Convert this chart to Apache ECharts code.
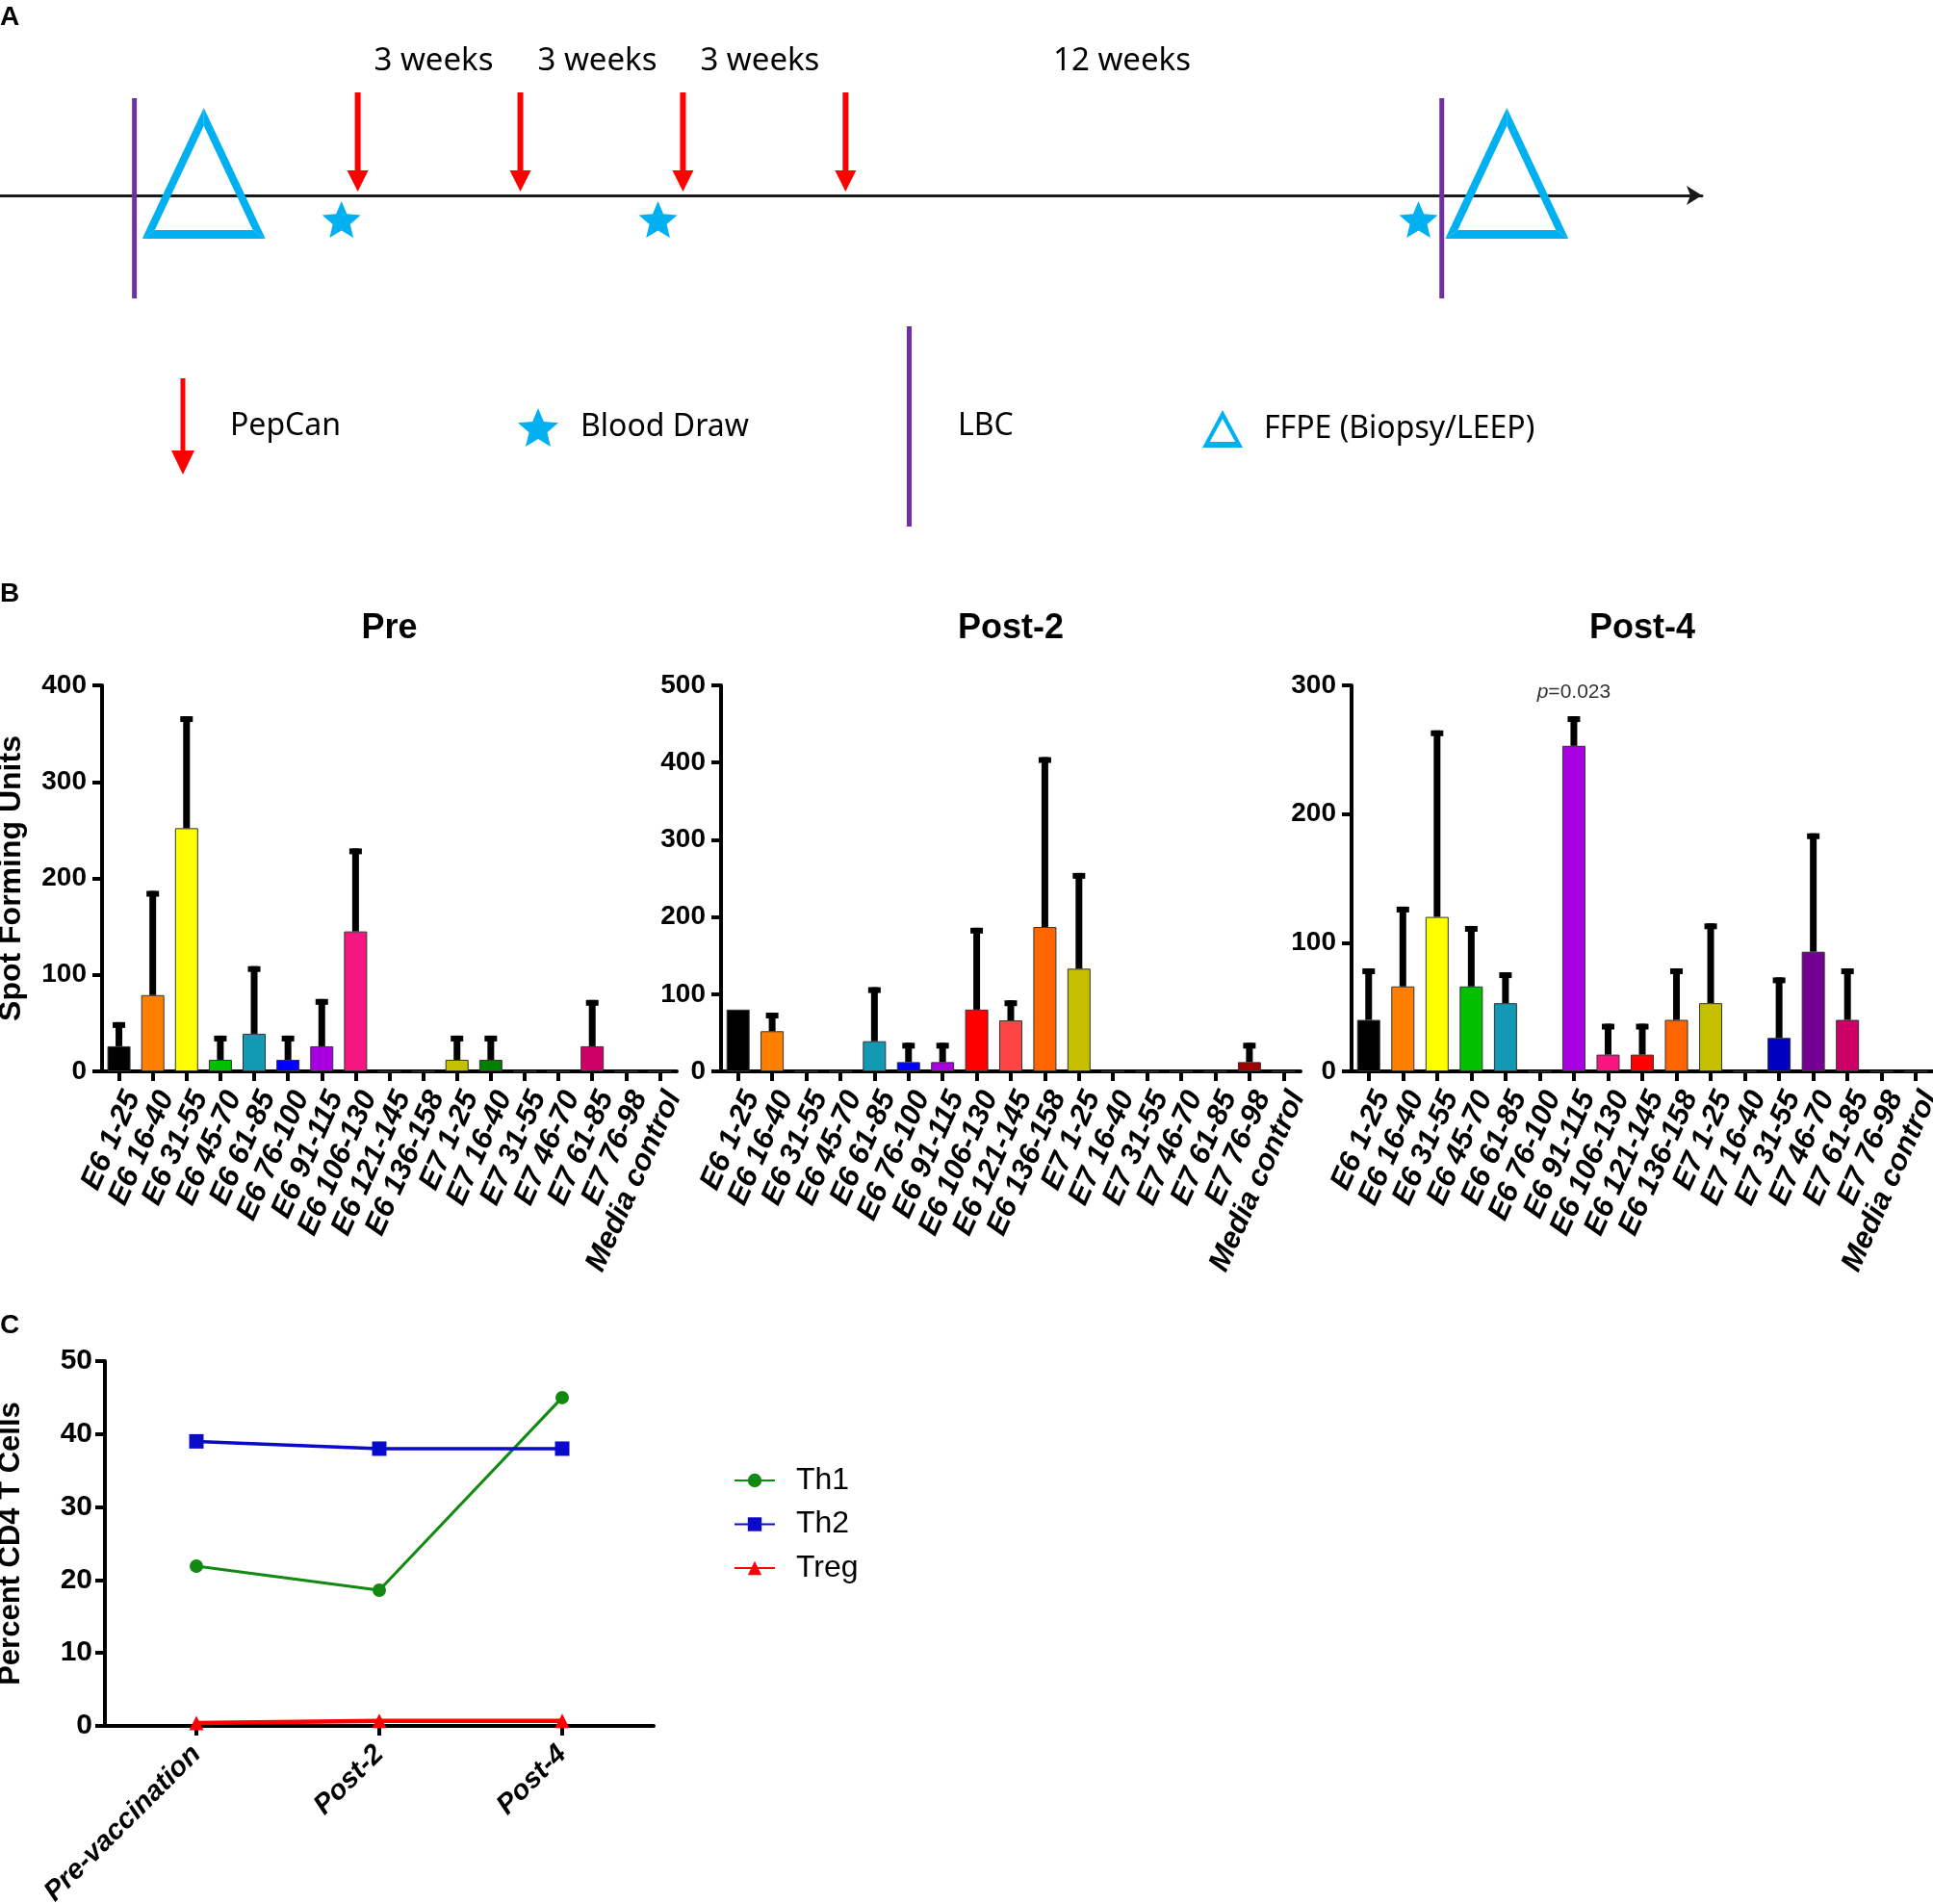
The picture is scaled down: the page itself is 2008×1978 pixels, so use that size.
<!DOCTYPE html>
<html><head><meta charset="utf-8">
<script src="https://cdn.jsdelivr.net/npm/echarts@6.0.0/dist/echarts.min.js"></script>
<style>html,body{margin:0;padding:0;background:#fff}#c{width:2008px;height:1978px}</style>
</head><body><div id="c"></div>
<script>
// ---------- Panel A: schematic timeline (positions in weeks from first PepCan dose)
const timelineWeeks = [-6.6, 24.8];
const pepcanWeeks = [0, 3, 6, 9];
const bloodDrawWeeks = [-0.3, 5.54, 19.57];
const lbcWeeks = [-4.12, 20.0];
const ffpeWeeks = [-2.84, 21.2];
const intervalLabels = ['3 weeks', '3 weeks', '3 weeks', '12 weeks'];
const intervalLabelWeeks = [1.4, 4.42, 7.42, 14.1];
const keyNames = ['PepCan', 'Blood Draw', 'LBC', 'FFPE (Biopsy/LEEP)'];

// ---------- Panel B: ELISPOT spot forming units
const peptides = ['E6 1-25','E6 16-40','E6 31-55','E6 45-70','E6 61-85','E6 76-100','E6 91-115','E6 106-130','E6 121-145','E6 136-158','E7 1-25','E7 16-40','E7 31-55','E7 46-70','E7 61-85','E7 76-98','Media control'];
const panelTitles = ['Pre', 'Post-2', 'Post-4'];
const preValues   = [26, 79, 252, 12, 39, 12, 26, 145, 0, 0, 12, 12, 0, 0, 26, 0, 0];
const preErrors   = [25, 108, 116, 25, 70, 25, 49, 86, 0, 0, 25, 25, 0, 0, 48, 0, 0];
const post2Values = [80, 52, 0, 0, 39, 12, 12, 80, 66, 187, 133, 0, 0, 0, 0, 12, 0];
const post2Errors = [0, 24, 0, 0, 70, 25, 25, 106, 26, 220, 124, 0, 0, 0, 0, 25, 0];
const post4Values = [40, 66, 120, 66, 53, 0, 253, 13, 13, 40, 53, 0, 26, 93, 40, 0, 0];
const post4Errors = [40, 62, 145, 47, 24, 0, 23, 24, 24, 40, 62, 0, 47, 92, 40, 0, 0];
const preColors   = ['#000000','#ff8000','#ffff00','#00c000','#1299b4','#0000ff','#a800e0','#f5167f','#000000','#000000','#c4c000','#008000','#000000','#000000','#cc0066','#000000','#000000'];
const post2Colors = ['#000000','#ff8000','#000000','#000000','#1299b4','#0000ff','#a800e0','#ff0000','#ff4444','#ff6600','#c4c000','#000000','#000000','#000000','#000000','#a00000','#000000'];
const post4Colors = ['#000000','#ff8000','#ffff00','#00c000','#1299b4','#000000','#a800e0','#f5167f','#ff0000','#ff6600','#c4c000','#000000','#0000c0','#740094','#cc0066','#000000','#000000'];
const axisMax = [400, 500, 300];
const axisInterval = 100;
const post4Annotation = { category: 'E6 91-115', text: 'p=0.023' };

// ---------- Panel C: CD4 T cell subsets
const timepoints = ['Pre-vaccination', 'Post-2', 'Post-4'];
const th1 = [21.9, 18.6, 45.0];
const th2 = [39.0, 38.0, 38.0];
const treg = [0.4, 0.7, 0.7];
const cMax = 50, cInterval = 10;

// ---------- styling helpers
const SANS = 'Liberation Sans, Arial, sans-serif';
const HUMAN = 'Noto Sans, Open Sans, sans-serif';
const NARROW = 'Liberation Sans Narrow, Arial Narrow, Liberation Sans, sans-serif';
const RED = '#ff0000', CYAN = '#00b0f0', PURPLE = '#7030a0';

function starPts(cx, cy, R, r) {
  const pts = [];
  for (let k = 0; k < 10; k++) {
    const a = -Math.PI / 2 + k * Math.PI / 5;
    const rr = k % 2 === 0 ? R : r;
    pts.push([cx + rr * Math.cos(a), cy + rr * Math.sin(a)]);
  }
  return pts;
}
const starIcon = 'path://' + starPts(21, 21.6, 21.6, 9.7).map((p, i) => (i ? 'L' : 'M') + p[0].toFixed(2) + ',' + p[1].toFixed(2)).join(' ') + ' Z';
const arrowIcon = 'path://M9.5,0 L14.5,0 L14.5,75 L24,75 L12,100 L0,75 L9.5,75 Z';
const triIcon = 'path://M21,0 L42,39 L0,39 Z M21,9 L7.8,33 L34.2,33 Z';

const chart = echarts.init(document.getElementById('c'), null, { width: 2008, height: 1978 });

const grids = [
  { left: 0, top: 0, width: 1768, height: 203 },          // A
  { left: 106, top: 712, width: 597, height: 401 },       // B Pre
  { left: 749, top: 712, width: 602, height: 401 },       // B Post-2
  { left: 1404, top: 712, width: 604, height: 401 },      // B Post-4
  { left: 109, top: 1414, width: 570, height: 379 }       // C
].map(g => Object.assign({ outerBoundsMode: 'none', containLabel: false }, g));

const xAxes = [], yAxes = [], series = [];

// Panel A axes
xAxes.push({ type: 'value', gridIndex: 0, min: timelineWeeks[0], max: timelineWeeks[1],
  axisLine: { show: true, onZero: false, symbol: ['none', 'arrow'], symbolSize: [15, 16], lineStyle: { color: '#1a1a1a', width: 3 } },
  axisTick: { show: false }, axisLabel: { show: false }, splitLine: { show: false } });
yAxes.push({ type: 'value', gridIndex: 0, min: 0, max: 1, show: false });

function onLine(api) { return api.coord([api.value(0), 0]); }
series.push({ name: keyNames[0], type: 'custom', xAxisIndex: 0, yAxisIndex: 0, clip: false, z: 3,
  itemStyle: { color: RED }, data: pepcanWeeks.map(w => [w, 0]),
  renderItem: (p, api) => { const [x, y0] = onLine(api); const tip = y0 - 4, top = y0 - 107, hb = tip - 22;
    return { type: 'polygon', shape: { points: [[x-3, top],[x+3, top],[x+3, hb],[x+11, hb],[x, tip],[x-11, hb],[x-3, hb]] }, style: { fill: RED } }; } });
series.push({ name: keyNames[1], type: 'custom', xAxisIndex: 0, yAxisIndex: 0, clip: false, z: 3,
  itemStyle: { color: CYAN }, data: bloodDrawWeeks.map(w => [w, 0]),
  renderItem: (p, api) => { const [x, y0] = onLine(api);
    return { type: 'polygon', shape: { points: starPts(x, y0 + 27, 21, 9.5) }, style: { fill: CYAN } }; } });
series.push({ name: keyNames[2], type: 'custom', xAxisIndex: 0, yAxisIndex: 0, clip: false, z: 4,
  itemStyle: { color: PURPLE }, data: lbcWeeks.map(w => [w, 0]),
  renderItem: (p, api) => { const [x, y0] = onLine(api);
    return { type: 'rect', shape: { x: x - 2.5, y: y0 - 101, width: 5, height: 208 }, style: { fill: PURPLE } }; } });
series.push({ name: keyNames[3], type: 'custom', xAxisIndex: 0, yAxisIndex: 0, clip: false, z: 3,
  itemStyle: { color: CYAN }, data: ffpeWeeks.map(w => [w, 0]),
  renderItem: (p, api) => { const [x, y0] = onLine(api);
    const ay = y0 - 91, by = y0 + 45, hw = 64, t = 8, tb = 9;
    const half = Math.atan(hw / (by - ay));
    const iay = ay + t / Math.sin(half), iby = by - tb;
    const ihw = hw * (iby - ay) / (by - ay) - t / Math.cos(half);
    const st = { fill: CYAN };
    return { type: 'group', children: [
      { type: 'polygon', shape: { points: [[x, ay],[x - hw, by],[x - ihw, iby],[x, iay]] }, style: st },
      { type: 'polygon', shape: { points: [[x, ay],[x + hw, by],[x + ihw, iby],[x, iay]] }, style: st },
      { type: 'polygon', shape: { points: [[x - hw, by],[x + hw, by],[x + ihw, iby],[x - ihw, iby]] }, style: st }
    ] }; } });
series.push({ name: 'intervals', type: 'custom', xAxisIndex: 0, yAxisIndex: 0, clip: false, z: 3,
  data: intervalLabelWeeks.map((w, i) => [w, 0, i]),
  renderItem: (p, api) => { const [x, y0] = onLine(api);
    return { type: 'text', style: { text: intervalLabels[api.value(2)], x: x, y: y0 - 139, fill: '#000',
      font: '33px ' + HUMAN, align: 'center', verticalAlign: 'middle' } }; } });

// Panel B
const bValues = [preValues, post2Values, post4Values];
const bErrors = [preErrors, post2Errors, post4Errors];
const bColors = [preColors, post2Colors, post4Colors];
for (let k = 0; k < 3; k++) {
  const g = k + 1;
  const xi = xAxes.length;
  xAxes.push({ type: 'category', gridIndex: g, data: peptides, boundaryGap: true,
    axisLine: { show: true, lineStyle: { color: '#000', width: 4 } },
    axisTick: { show: true, alignWithLabel: true, length: 10, lineStyle: { color: '#000', width: 4 } },
    axisLabel: { interval: 0, rotate: 66, margin: 16, verticalAlign: 'top', fontFamily: SANS, fontWeight: 'bold', fontStyle: 'italic', fontSize: 31, color: '#000' },
    splitLine: { show: false } });
  xAxes.push({ type: 'category', gridIndex: g, data: peptides, position: 'top',
    axisLine: { show: false }, axisTick: { show: false }, axisLabel: { show: false }, splitLine: { show: false },
    name: panelTitles[k], nameLocation: 'middle', nameGap: 41,
    nameTextStyle: { fontFamily: SANS, fontWeight: 'bold', fontSize: 36, color: '#000' } });
  const yi = yAxes.length;
  yAxes.push({ type: 'value', gridIndex: g, min: 0, max: axisMax[k], interval: axisInterval,
    axisLine: { show: true, lineStyle: { color: '#000', width: 4 } },
    axisTick: { show: true, length: 10, lineStyle: { color: '#000', width: 4 } },
    axisLabel: { margin: 16, fontFamily: SANS, fontWeight: 'bold', fontSize: 28, color: '#000' },
    splitLine: { show: false },
    name: k === 0 ? 'Spot Forming Units' : '', nameLocation: 'middle', nameGap: 78,
    nameTextStyle: { fontFamily: SANS, fontWeight: 'bold', fontSize: 32, color: '#000' } });
  const colors = bColors[k];
  const bar = { type: 'bar', name: panelTitles[k], xAxisIndex: xi, yAxisIndex: yi, barWidth: 24, z: 2,
    data: bValues[k], silent: true,
    itemStyle: { color: (pp) => colors[pp.dataIndex], borderColor: '#333', borderWidth: 1 } };
  if (k === 2) {
    const ci = peptides.indexOf(post4Annotation.category);
    bar.markPoint = { symbol: 'circle', symbolSize: 1, silent: true, itemStyle: { color: 'rgba(0,0,0,0)' },
      data: [{ coord: [ci, bValues[k][ci] + bErrors[k][ci]],
        label: { show: true, position: 'inside', offset: [0, -25], formatter: '{i|p}=' + post4Annotation.text.split('=')[1],
          fontFamily: SANS, fontSize: 21, color: '#333', rich: { i: { fontStyle: 'italic', fontFamily: SANS, fontSize: 21, color: '#333' } } } }] };
  }
  series.push(bar);
  series.push({ type: 'custom', name: panelTitles[k] + ' SD', xAxisIndex: xi, yAxisIndex: yi, z: 3, clip: false, silent: true,
    data: bValues[k].map((v, i) => [i, v, bErrors[k][i]]), encode: { x: 0, y: 1 },
    renderItem: (p, api) => {
      const i = api.value(0), v = api.value(1), e = api.value(2);
      if (!(e > 0)) return null;
      const p0 = api.coord([i, v]), p1 = api.coord([i, v + e]);
      return { type: 'group', children: [
        { type: 'rect', shape: { x: p0[0] - 3.5, y: p1[1], width: 7, height: p0[1] - p1[1] }, style: { fill: '#000' } },
        { type: 'rect', shape: { x: p1[0] - 6.5, y: p1[1], width: 13, height: 6 }, style: { fill: '#000' } }
      ] };
    } });
}

// Panel C
const cx = xAxes.length;
xAxes.push({ type: 'category', gridIndex: 4, data: timepoints, boundaryGap: true,
  axisLine: { show: true, lineStyle: { color: '#000', width: 4 } },
  axisTick: { show: true, alignWithLabel: true, length: 10, lineStyle: { color: '#000', width: 4 } },
  axisLabel: { interval: 0, rotate: 45, margin: 25, fontFamily: SANS, fontWeight: 'bold', fontStyle: 'italic', fontSize: 29, color: '#000' },
  splitLine: { show: false } });
const cy = yAxes.length;
yAxes.push({ type: 'value', gridIndex: 4, min: 0, max: cMax, interval: cInterval,
  axisLine: { show: true, lineStyle: { color: '#000', width: 4 } },
  axisTick: { show: true, length: 10, lineStyle: { color: '#000', width: 4 } },
  axisLabel: { margin: 13, fontFamily: NARROW, fontWeight: 'bold', fontSize: 30, color: '#000' },
  splitLine: { show: false },
  name: 'Percent CD4 T Cells', nameLocation: 'middle', nameGap: 82,
  nameTextStyle: { fontFamily: SANS, fontWeight: 'bold', fontSize: 31, color: '#000' } });
const cSeries = [
  { name: 'Th1', data: th1, color: '#128a12', symbol: 'circle', size: 14, w: 3 },
  { name: 'Th2', data: th2, color: '#0a0acc', symbol: 'rect', size: 15, w: 3.5 },
  { name: 'Treg', data: treg, color: '#ff0000', symbol: 'triangle', size: 15, w: 4.5 }
];
cSeries.forEach(s => series.push({ type: 'line', name: s.name, xAxisIndex: cx, yAxisIndex: cy, data: s.data,
  symbol: s.symbol, symbolSize: s.size, showSymbol: true, clip: false, silent: true,
  lineStyle: { color: s.color, width: s.w }, itemStyle: { color: s.color } }));

const legendText = (pad) => ({ fontFamily: HUMAN, fontSize: 32, color: '#000', padding: [0, 0, 0, pad] });
const panelLetter = { fontFamily: SANS, fontWeight: 'bold', fontSize: 28, color: '#000' };
const option = {
  animation: false,
  backgroundColor: '#fff',
  title: [
    { text: 'A', left: 0, top: 4, padding: 0, textStyle: panelLetter },
    { text: 'B', left: 0, top: 603, padding: 0, textStyle: panelLetter },
    { text: 'C', left: 0, top: 1363, padding: 0, textStyle: panelLetter }
  ],
  grid: grids,
  xAxis: xAxes,
  yAxis: yAxes,
  legend: [
    { data: [{ name: keyNames[0], icon: arrowIcon }], left: 178, top: 393, padding: 0, itemWidth: 24, itemHeight: 100, selectedMode: false, textStyle: legendText(32) },
    { data: [{ name: keyNames[1], icon: starIcon }], left: 538, top: 424, padding: 0, itemWidth: 42, itemHeight: 42, selectedMode: false, textStyle: legendText(18) },
    { data: [{ name: keyNames[2], icon: 'rect' }], left: 942, top: 339, padding: 0, itemWidth: 5, itemHeight: 208, selectedMode: false, textStyle: legendText(43) },
    { data: [{ name: keyNames[3], icon: triIcon }], left: 1249, top: 426, padding: 0, itemWidth: 42, itemHeight: 39, selectedMode: false, textStyle: legendText(17) },
    { data: ['Th1', 'Th2', 'Treg'], orient: 'vertical', left: 762, top: 1522, padding: 0, itemWidth: 42, itemHeight: 18, itemGap: 13.5,
      selectedMode: false, textStyle: { fontFamily: NARROW, fontSize: 32, color: '#000', lineHeight: 30, padding: [0, 0, 0, 17] } }
  ],
  series: series
};
chart.setOption(option);
</script></body></html>
